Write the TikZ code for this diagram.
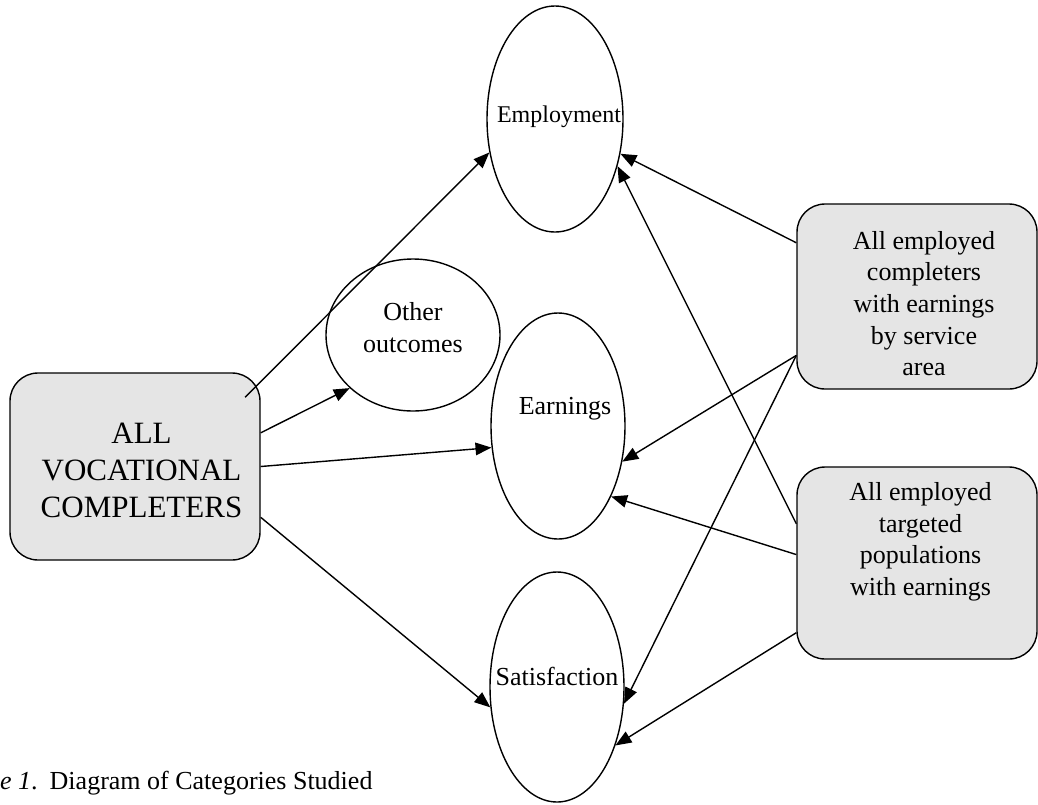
\documentclass[tikz,border=0pt]{standalone}
\usepackage{fontspec}
\setmainfont{Liberation Serif}
\usetikzlibrary{shapes.geometric,arrows.meta}
\begin{document}
\begin{tikzpicture}[x=1pt,y=-1pt,
  oval/.style={draw,ellipse,line width=1.4pt,inner sep=0pt},
  gbox/.style={draw,fill=black!10,rounded corners=28pt,line width=1.4pt,inner sep=0pt},
  lbl/.style={inner sep=0pt,align=center,font=\fontsize{26}{31.5}\selectfont},
  conn/.style={line width=1.4pt,-{Triangle[length=16pt,width=12.5pt]}}]
\useasboundingbox (0,0) rectangle (1038,804);
% ellipses
\node[oval,minimum width=136pt,minimum height=226pt] (emp) at (555,119) {};
\node[oval,minimum width=174pt,minimum height=152pt] (oth) at (413,335) {};
\node[oval,minimum width=134pt,minimum height=226pt] (ear) at (558,426) {};
\node[oval,minimum width=134pt,minimum height=230pt] (sat) at (557,687) {};
% boxes
\node[gbox,minimum width=250pt,minimum height=187pt] (all) at (135,466.5) {};
\node[gbox,minimum width=240pt,minimum height=185pt] (comp) at (917,296.5) {};
\node[gbox,minimum width=240pt,minimum height=192pt] (targ) at (917,563) {};
% labels
\node[lbl,font=\fontsize{24}{29}\selectfont] (empT) at (559,117) {Employment};
\node[lbl] (othT) at (413,327.5) {Other\\outcomes};
\node[lbl] (earT) at (565,409) {Earnings};
\node[lbl] (satT) at (557,676) {Satisfaction};
\node[lbl,font=\fontsize{31}{37}\selectfont] (allT) at (141.5,470) {ALL\\VOCATIONAL\\COMPLETERS};
\node[lbl,font=\fontsize{26}{31.7}\selectfont] (compT) at (924,303.5) {All employed\\completers\\with earnings\\by service\\area};
\node[lbl] (targT) at (920.5,542) {All employed\\targeted\\populations\\with earnings};
\node[anchor=base west,inner sep=0pt,font=\fontsize{26}{31}\selectfont] (cap) at (0,789) {\textit{e 1}.\hspace{12pt}Diagram of Categories Studied};
% connectors
\draw[conn,shorten <=-22pt] (all.34) -- (emp.207);
\draw[conn] (all.15) -- (oth.220);
\draw[conn] (all.0) -- (ear.198);
\draw[conn] (all.-22) -- (sat.197);
\draw[conn] (comp.156) -- (emp.332);
\draw[conn] (comp.206) -- (ear.331);
\draw[conn] (comp.206) -- (sat.346);
\draw[conn] (targ.162) -- (emp.323);
\draw[conn] (targ.176) -- (ear.307);
\draw[conn] (targ.210) -- (sat.315);
\end{tikzpicture}
\end{document}
